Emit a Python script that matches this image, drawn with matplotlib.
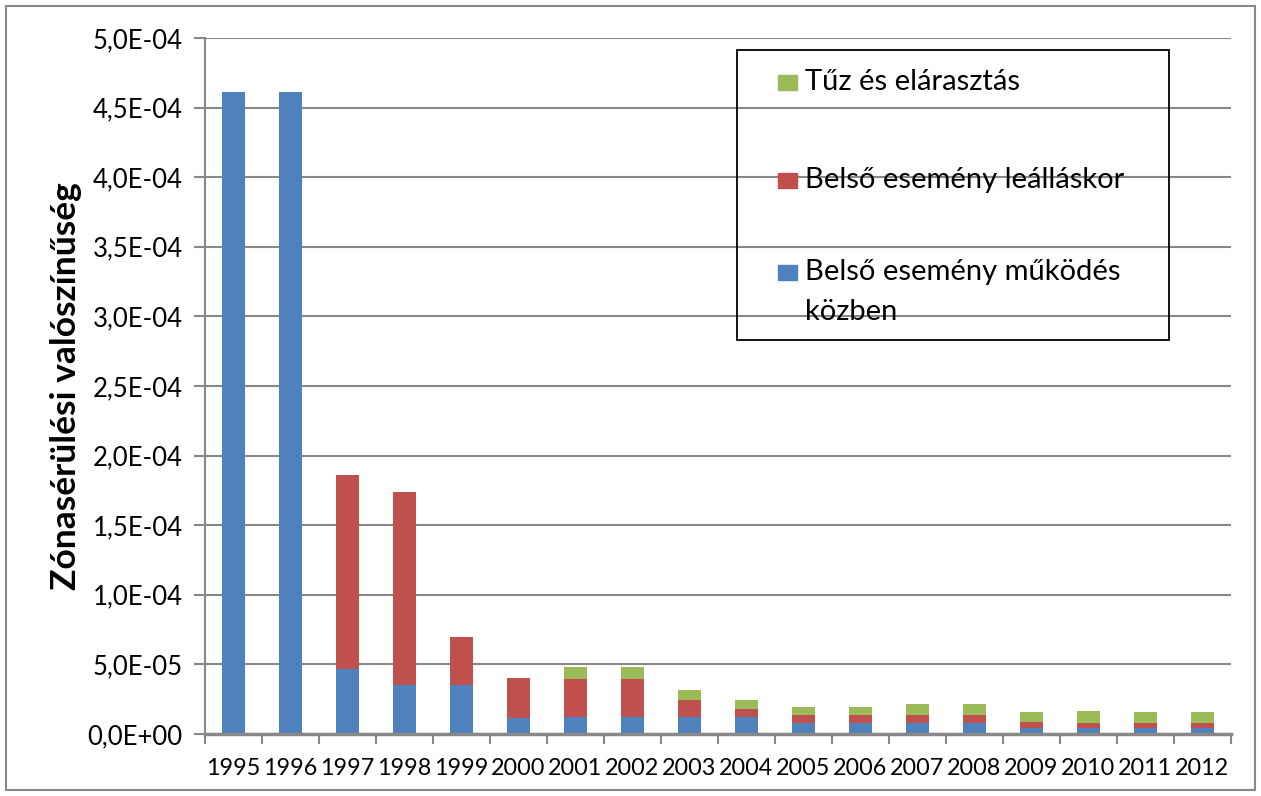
import numpy as np
import matplotlib
matplotlib.use("Agg")
from matplotlib import pyplot as plt
from matplotlib.patches import Rectangle

years = ['1995', '1996', '1997', '1998', '1999', '2000', '2001', '2002', '2003',
         '2004', '2005', '2006', '2007', '2008', '2009', '2010', '2011', '2012']
mukodes = [4.61e-4, 4.61e-4, 4.65e-5, 3.5e-5, 3.5e-5, 1.15e-5, 1.2e-5, 1.2e-5, 1.2e-5,
           1.2e-5, 8.1e-6, 8.1e-6, 8.1e-6, 8.1e-6, 4.1e-6, 4.1e-6, 4.1e-6, 4.1e-6]
leallas = [0, 0, 1.395e-4, 1.39e-4, 3.49e-5, 2.9e-5, 2.77e-5, 2.77e-5, 1.27e-5,
           6.2e-6, 5.8e-6, 5.8e-6, 5.5e-6, 5.5e-6, 4.7e-6, 4.0e-6, 4.0e-6, 4.0e-6]
tuz = [0, 0, 0, 0, 0, 0, 8.6e-6, 8.6e-6, 6.7e-6,
       6.2e-6, 5.5e-6, 5.5e-6, 8.0e-6, 8.0e-6, 6.8e-6, 8.4e-6, 7.5e-6, 7.5e-6]
labels = ['Tűz és elárasztás', 'Belső esemény leálláskor', 'Belső esemény működés\nközben']
colors = ['#9BBB59', '#C0504D', '#4F81BD']

plt.rcParams['font.family'] = ['Lato', 'DejaVu Sans']

fig = plt.figure(figsize=(12.61, 7.96), dpi=100)
ax = fig.add_axes([205 / 1261, 1 - 734 / 796, 1025.7 / 1261, 696 / 796])

x = np.arange(len(years))
b1 = np.array(mukodes)
b2 = b1 + np.array(leallas)
w = 0.41
ax.bar(x, mukodes, w, color=colors[2], linewidth=0, zorder=3)
ax.bar(x, leallas, w, bottom=b1, color=colors[1], linewidth=0, zorder=3)
ax.bar(x, tuz, w, bottom=b2, color=colors[0], linewidth=0, zorder=3)

ax.set_xlim(-0.5, len(years) - 0.5)
ax.set_ylim(0, 5e-4)
yt = np.arange(0, 5.01e-4, 5e-5)
ax.set_yticks(yt)
ax.set_yticklabels([('%.1E' % v).replace('.', ',') for v in yt], fontsize=18.5)
ax.set_xticks(x)
ax.set_xticklabels(years, fontsize=16.8)
ax.set_xticks(np.arange(-0.5, len(years)), minor=True)
ax.tick_params(axis='x', which='major', length=0, pad=17)
ax.tick_params(axis='x', which='minor', length=7, width=1.5, color='#888888')
ax.tick_params(axis='y', length=8, width=1.5, color='#888888', pad=8)
ax.grid(axis='y', color='#888888', linewidth=1.5, zorder=0)

for s in ['top', 'right']:
    ax.spines[s].set_visible(False)
ax.spines['left'].set_color('#888888')
ax.spines['left'].set_linewidth(1.5)
ax.spines['bottom'].set_color('#888888')
ax.spines['bottom'].set_linewidth(2.5)
ax.spines['bottom'].set_zorder(4)

ax.set_ylabel('Zónasérülési valószínűség', fontsize=25.5, fontweight='bold')
ax.yaxis.set_label_coords(-0.12, 0.5)

# legend box
fig.patches.append(Rectangle((737 / 1261, 1 - 340 / 796), 432 / 1261, 290 / 796,
                             transform=fig.transFigure, fill=False, edgecolor='black',
                             linewidth=1.3))
for lab, col, yp in zip(labels, colors, [82, 180, 272]):
    fig.patches.append(Rectangle((778 / 1261, 1 - (yp + 8) / 796), 19 / 1261, 15 / 796,
                                 transform=fig.transFigure, color=col))
    for i, line in enumerate(lab.split('\n')):
        fig.text(805 / 1261, 1 - (yp + 40 * i) / 796, line, fontsize=21, va='center')

# outer border
fig.patches.append(Rectangle((6 / 1261, 6 / 796), 1249 / 1261, 784 / 796,
                             transform=fig.transFigure, fill=False, edgecolor='#888888',
                             linewidth=1.5))

fig.savefig('out.png', dpi=100)
